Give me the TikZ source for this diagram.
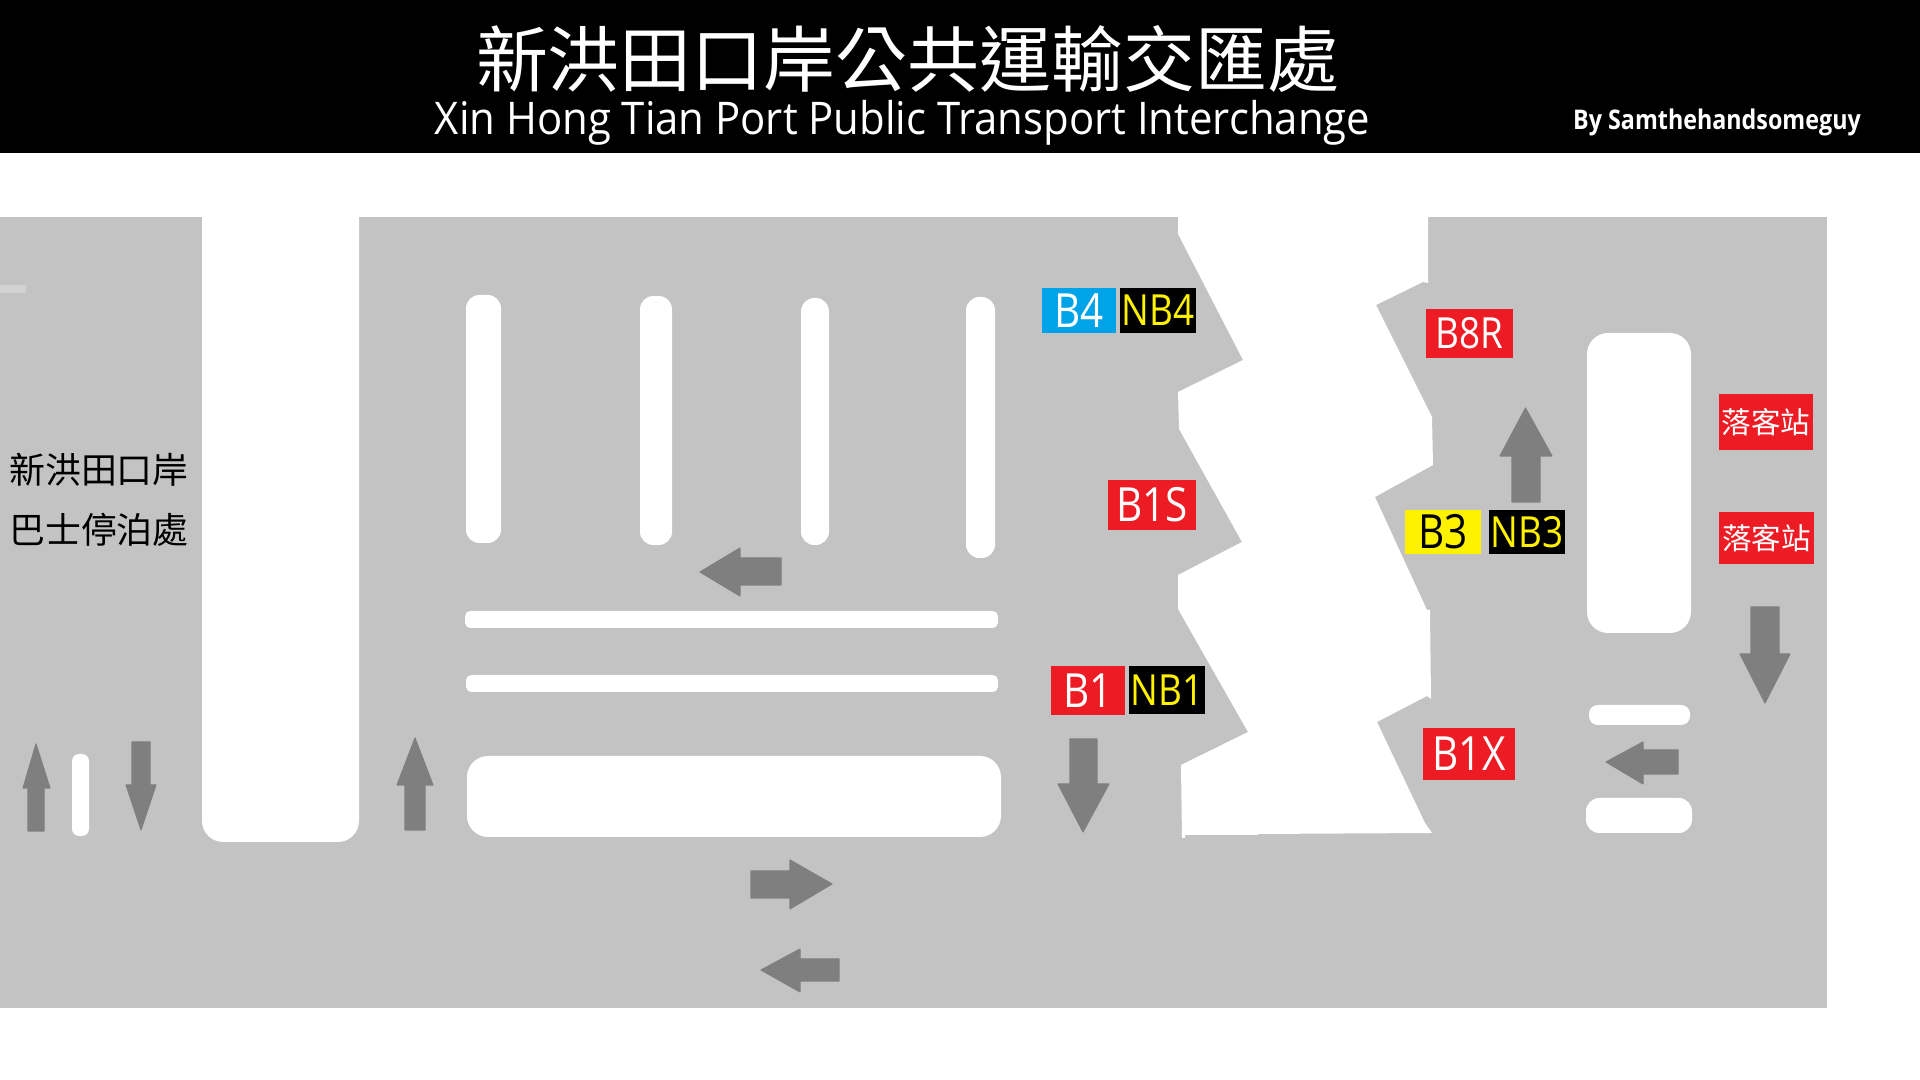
\documentclass[tikz,border=0pt]{standalone}
\usepackage{fontspec}
\setmainfont{Open Sans}
\newfontfamily\cjk{Noto Sans CJK TC}
\newfontfamily\signfont[FakeStretch=0.86]{Open Sans}
\newfontfamily\headfont[FakeStretch=0.93]{Open Sans}
\definecolor{roadgrey}{HTML}{C3C3C3}
\definecolor{arrowgrey}{HTML}{7F7F7F}
\definecolor{signred}{HTML}{ED1C24}
\definecolor{signblue}{HTML}{00A2E8}
\definecolor{signyellow}{HTML}{FFF200}
\tikzset{
  island/.style={fill=white, rounded corners=3.8pt},
  bar/.style={fill=white, rounded corners=1.5pt},
  roadarrow/.style={fill=arrowgrey, draw=arrowgrey, line width=0.3pt, line join=round},
  bay/.style={inner sep=0pt, font=\signfont\fontsize{12.2pt}{14pt}\selectfont},
  baybox/.style 2 args={bay, minimum width=#1cm, minimum height=#2cm},
  bigbay/.style={font=\signfont\fontsize{13.4pt}{16pt}\selectfont},
  dropoff/.style={inner sep=0pt, fill=signred, text=white, font=\cjk\fontsize{8.4pt}{10pt}\selectfont}
}
\begin{document}
\begin{tikzpicture}[x=0.01cm, y=-0.01cm]
    \useasboundingbox (0,0) rectangle (1920,1080);

    % Header
    \fill[black] (0,0) rectangle (1920,153);
    \node[text=white, font=\cjk\fontsize{20.45pt}{24pt}\selectfont, inner sep=0pt] (titlezh) at (907.5,59) {新洪田口岸公共運輸交匯處};
    \node[text=white, font=\headfont\fontsize{12.8pt}{15pt}\selectfont, inner sep=0pt] (titleen) at (902.5,123) {Xin Hong Tian Port Public Transport Interchange};
    \node[text=white, font=\signfont\bfseries\fontsize{7.7pt}{9pt}\selectfont, inner sep=0pt] (byline) at (1717,122) {By Samthehandsomeguy};

    % Ground
    \fill[roadgrey] (0,217) rectangle (1827,1008);
    \fill[white!25!roadgrey] (0,285) rectangle (26,293);

    % Left walkway
    \fill[white] (202,217) {[rounded corners=6pt] -- (202,842) -- (359,842)} -- (359,217) -- cycle;

    % Central walkway
    \fill[white] (1178,217) -- (1178,234) -- (1243,360) -- (1178,392) -- (1179,429) -- (1242,542)
        -- (1178,575) -- (1178,609) -- (1248,732) -- (1181,765) -- (1182,838) -- (1185,838)
        -- (1185,835) -- (1258,835) -- (1258,834) -- (1432,833) -- (1425,823) -- (1377,722)
        -- (1427,696) -- (1431,699) -- (1430,610) -- (1427,610) -- (1375,497) -- (1433,465)
        -- (1432,417) -- (1376,305) -- (1423,282) -- (1428,283) -- (1428,217) -- cycle;

    % Islands
    \fill[island] (466,295) rectangle (501,543);
    \fill[island] (640,296) rectangle (672,545);
    \fill[island] (801,298) rectangle (829,545);
    \fill[island] (966,297) rectangle (995,558);
    \fill[bar] (465,611) rectangle (998,628);
    \fill[bar] (466,675) rectangle (998,692);
    \fill[island, rounded corners=6pt] (467,756) rectangle (1001,837);
    \fill[bar, rounded corners=2pt] (72,754) rectangle (89,836);
    \fill[island, rounded corners=6pt] (1587,333) rectangle (1691,633);
    \fill[bar, rounded corners=2.5pt] (1589,705) rectangle (1690,725);
    \fill[island] (1586,798) rectangle (1692,833);

    % Arrows
    \draw[roadarrow] (36,744) -- (50,788) -- (44,788) -- (44,831) -- (28,831) -- (28,788) -- (23,788) -- cycle;
    \draw[roadarrow] (141,830) -- (156,785) -- (150,785) -- (150,742) -- (132,742) -- (132,785) -- (126,785) -- cycle;
    \draw[roadarrow] (415,738) -- (433,785) -- (425,785) -- (425,830) -- (405,830) -- (405,785) -- (397,785) -- cycle;
    \draw[roadarrow] (700,572) -- (740,548) -- (740,558) -- (781,558) -- (781,585) -- (740,585) -- (740,596) -- cycle;
    \draw[roadarrow] (832,884) -- (790,860) -- (790,871) -- (751,871) -- (751,898) -- (790,898) -- (790,909) -- cycle;
    \draw[roadarrow] (761,970) -- (800,949) -- (800,959) -- (839,959) -- (839,981) -- (800,981) -- (800,992) -- cycle;
    \draw[roadarrow] (1083,832) -- (1109,784) -- (1097,784) -- (1097,739) -- (1070,739) -- (1070,784) -- (1058,784) -- cycle;
    \draw[roadarrow] (1525.5,408) -- (1552,456) -- (1540,456) -- (1540,502) -- (1512,502) -- (1512,456) -- (1500,456) -- cycle;
    \draw[roadarrow] (1765,703) -- (1790,654) -- (1779,654) -- (1779,607) -- (1751,607) -- (1751,654) -- (1740,654) -- cycle;
    \draw[roadarrow] (1606,762) -- (1643,742) -- (1643,750) -- (1678,750) -- (1678,774) -- (1643,774) -- (1643,784) -- cycle;

    % Bay signs
    \node[baybox={0.74}{0.45}, fill=signblue, text=white, bigbay] (b4) at (1079,310.5) {B4};
    \node[baybox={0.76}{0.45}, fill=black, text=signyellow] (nb4) at (1158,310.5) {NB4};
    \node[baybox={0.87}{0.49}, fill=signred, text=white] (b8r) at (1469.5,333.5) {B8R};
    \node[baybox={0.88}{0.50}, fill=signred, text=white, bigbay] (b1s) at (1152,505) {B1S};
    \node[baybox={0.76}{0.44}, fill=signyellow, text=black, bigbay] (b3) at (1443,532) {B3};
    \node[baybox={0.76}{0.44}, fill=black, text=signyellow] (nb3) at (1527,532) {NB3};
    \node[baybox={0.74}{0.49}, fill=signred, text=white, bigbay] (b1) at (1088,690.5) {B1};
    \node[baybox={0.76}{0.48}, fill=black, text=signyellow] (nb1) at (1167,690) {NB1};
    \node[baybox={0.92}{0.52}, fill=signred, text=white, bigbay] (b1x) at (1469,754) {B1X};

    % Drop-off signs
    \node[dropoff, minimum width=0.94cm, minimum height=0.56cm] (dropa) at (1766,422) {落客站};
    \node[dropoff, minimum width=0.95cm, minimum height=0.52cm] (dropb) at (1766.5,538) {落客站};

    % Bus park label
    \node[font=\cjk\fontsize{10.2pt}{12pt}\selectfont, inner sep=0pt] (parka) at (99,470) {新洪田口岸};
    \node[font=\cjk\fontsize{10.2pt}{12pt}\selectfont, inner sep=0pt] (parkb) at (99,530) {巴士停泊處};
\end{tikzpicture}
\end{document}
